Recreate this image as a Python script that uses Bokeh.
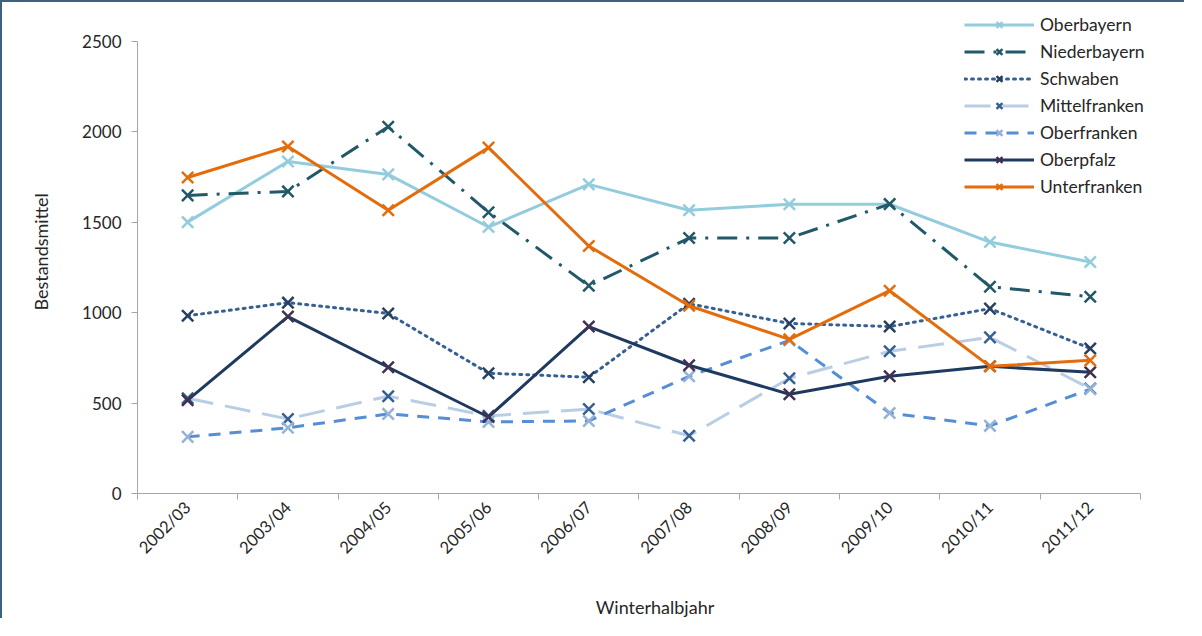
from math import pi
from bokeh.plotting import figure
from bokeh.models import Range1d, FixedTicker, Legend, LegendItem
from bokeh.embed import file_html
from bokeh.resources import INLINE

seasons = ["2002/03", "2003/04", "2004/05", "2005/06", "2006/07",
           "2007/08", "2008/09", "2009/10", "2010/11", "2011/12"]

oberbayern    = [1500, 1835, 1764, 1473, 1709, 1566, 1599, 1599, 1390, 1280]
niederbayern  = [1648, 1670, 2027, 1555, 1148, 1412, 1412, 1600, 1143, 1088]
schwaben      = [983, 1055, 995, 665, 643, 1049, 940, 923, 1022, 802]
mittelfranken = [527, 412, 538, 429, 467, 319, 637, 786, 863, 580]
oberfranken   = [313, 363, 440, 396, 401, 648, 846, 445, 374, 577]
oberpfalz     = [516, 978, 698, 423, 923, 709, 549, 648, 703, 670]
unterfranken  = [1747, 1918, 1566, 1912, 1368, 1038, 852, 1121, 703, 736]

y_ticks = [0, 500, 1000, 1500, 2000, 2500]

series = [
    ("Oberbayern", oberbayern, "#93CDDD", "#93CDDD", "solid"),
    ("Niederbayern", niederbayern, "#215968", "#215968", "20 9 3 9"),
    ("Schwaben", schwaben, "#366092", "#254061", "2 5"),
    ("Mittelfranken", mittelfranken, "#B9CDE5", "#366092", "26 12"),
    ("Oberfranken", oberfranken, "#558ED5", "#95B3D7", "12 9"),
    ("Oberpfalz", oberpfalz, "#1F3A5F", "#403152", "solid"),
    ("Unterfranken", unterfranken, "#E46C0A", "#E46C0A", "solid"),
]

FONT = "Lato"
xs = list(range(len(seasons)))
n = len(seasons)

# frame extends above/right of the axes so the legend (drawn in the frame) fits
p = figure(width=1184, height=618, output_backend="svg", toolbar_location=None,
           x_range=Range1d(-0.5, n - 0.5 + 0.32), y_range=Range1d(0, 2670),
           min_border_left=135, min_border_right=14, min_border_top=8,
           min_border_bottom=124)
p.styles = {"border-left": "2px solid #3C6282", "border-top": "2px solid #3C6282"}
p.outline_line_color = None
p.xgrid.visible = False
p.ygrid.visible = False

items = []
for name, vals, lc, mc, dash in series:
    r1 = p.line(xs, vals, line_color=lc, line_width=3, line_dash=dash,
                line_cap="round" if dash == "2 5" else "butt")
    r2 = p.scatter(xs, vals, marker="x", size=16, line_color=mc, line_width=2.5)
    items.append(LegendItem(label=name, renderers=[r1, r2]))

legend = Legend(items=items, location=(827, 296), padding=0, margin=0,
                glyph_width=70, glyph_height=21, spacing=6, label_standoff=6,
                label_text_font=FONT, label_text_font_size="17.5px",
                label_text_color="#262626", background_fill_alpha=0,
                border_line_color=None)
p.add_layout(legend, "center")

# x axis
p.xaxis.bounds = (-0.5, n - 0.5)
p.xaxis.ticker = FixedTicker(ticks=xs, minor_ticks=[i - 0.5 for i in range(n + 1)])
p.xaxis.major_label_overrides = {i: s for i, s in enumerate(seasons)}
p.xaxis.major_label_orientation = pi / 4
p.xaxis.major_tick_out = 0
p.xaxis.major_tick_in = 0
p.xaxis.minor_tick_out = 6
p.xaxis.minor_tick_in = 0
p.xaxis.minor_tick_line_color = "#A6A6A6"
p.xaxis.axis_line_color = "#A6A6A6"
p.xaxis.major_label_text_font = FONT
p.xaxis.major_label_text_font_size = "16.5px"
p.xaxis.major_label_text_color = "#262626"
p.xaxis.axis_label = "Winterhalbjahr"
p.xaxis.axis_label_text_font = FONT
p.xaxis.axis_label_text_font_style = "normal"
p.xaxis.axis_label_text_font_size = "18px"
p.xaxis.axis_label_text_color = "#262626"
p.xaxis.axis_label_standoff = 28

# y axis
p.yaxis.ticker = FixedTicker(ticks=y_ticks)
p.yaxis.bounds = (0, 2500)
p.yaxis.minor_tick_line_color = None
p.yaxis.major_tick_out = 6
p.yaxis.major_tick_in = 0
p.yaxis.major_tick_line_color = "#A6A6A6"
p.yaxis.axis_line_color = "#A6A6A6"
p.yaxis.major_label_text_font = FONT
p.yaxis.major_label_text_font_size = "17px"
p.yaxis.major_label_text_color = "#262626"
p.yaxis.major_label_standoff = 10
p.yaxis.axis_label = "Bestandsmittel"
p.yaxis.axis_label_text_font = FONT
p.yaxis.axis_label_text_font_style = "normal"
p.yaxis.axis_label_text_font_size = "18px"
p.yaxis.axis_label_text_color = "#262626"
p.yaxis.axis_label_standoff = 27

open("out.html", "w").write(file_html(p, INLINE))
